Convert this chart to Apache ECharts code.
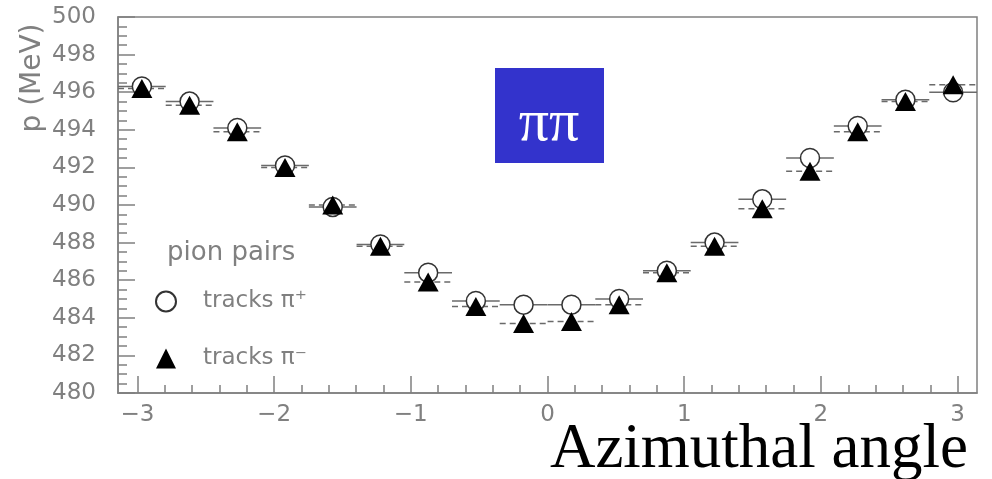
<!DOCTYPE html>
<html>
<head>
<meta charset="utf-8">
<script src="https://cdn.jsdelivr.net/npm/echarts@6/dist/echarts.min.js"></script>
<style>html,body{margin:0;padding:0;background:#fff;}#c{width:992px;height:479px;}</style>
</head>
<body>
<div id="c"></div>
<script>
// Data
const binCenters = [-2.967,-2.618,-2.269,-1.920,-1.571,-1.222,-0.873,-0.524,-0.175,0.175,0.524,0.873,1.222,1.571,1.920,2.269,2.618,2.967];
const binHalfWidth = 0.1745;
const piPlus  = [496.3,495.5,494.1,492.1,489.9,487.9,486.4,484.9,484.7,484.7,485.0,486.5,488.0,490.3,492.5,494.2,495.6,496.0];
const piMinus = [496.2,495.3,493.9,492.0,490.0,487.8,485.9,484.6,483.7,483.8,484.7,486.4,487.8,489.8,491.8,493.9,495.5,496.4];
const xTickLabels = [-3,-2,-1,0,1,2,3];
const xMinorTicks = [];
for (let i = -15; i <= 15; i++) { if (i % 5 !== 0) xMinorTicks.push(+(i * 0.2).toFixed(1)); }
const seriesNames = ['tracks π\u207A', 'tracks π\u207B'];

const gray = '#808080';
const tickFont = { fontFamily: 'DejaVu Sans', fontSize: 23, color: gray };

function errBars(vals, dashed) {
  return {
    type: 'custom',
    xAxisIndex: 0, yAxisIndex: 0,
    silent: true,
    z: 1,
    data: binCenters.map((x, i) => [x, vals[i]]),
    renderItem: function (params, api) {
      const x = api.value(0), y = api.value(1);
      const p1 = api.coord([x - binHalfWidth, y]);
      const p2 = api.coord([x + binHalfWidth, y]);
      return {
        type: 'line',
        shape: { x1: p1[0], y1: p1[1], x2: p2[0], y2: p2[1] },
        style: { stroke: '#6a6a6a', lineWidth: 1.5, lineDash: dashed ? [6, 4] : null }
      };
    }
  };
}

const chart = echarts.init(document.getElementById('c'), null, { renderer: 'canvas' });
chart.setOption({
  animation: false,
  backgroundColor: '#fff',
  grid: { left: 118, top: 17, right: 15, bottom: 86, show: true, borderColor: gray, borderWidth: 1.5 },
  xAxis: [{
    type: 'value', min: -Math.PI, max: Math.PI,
    axisLine: { show: true, onZero: false, lineStyle: { color: gray, width: 1.5 } },
    axisTick: { show: true, inside: true, length: 17, customValues: xTickLabels, lineStyle: { color: gray, width: 1.5 } },
    axisLabel: { customValues: xTickLabels, margin: 11, ...tickFont,
      formatter: v => String(Math.round(v)).replace('-', '\u2212') },
    splitLine: { show: false }
  }, {
    type: 'value', min: -Math.PI, max: Math.PI, position: 'bottom',
    axisLine: { show: false, onZero: false },
    axisTick: { show: true, inside: true, length: 8, customValues: xMinorTicks, lineStyle: { color: gray, width: 1.5 } },
    axisLabel: { show: false },
    splitLine: { show: false }
  }],
  yAxis: {
    type: 'value', min: 480, max: 500, interval: 2,
    axisLine: { show: true, onZero: false, lineStyle: { color: gray, width: 1.5 } },
    axisTick: { show: true, inside: true, length: 17, lineStyle: { color: gray, width: 1.5 } },
    minorTick: { show: true, splitNumber: 4, length: 9, lineStyle: { color: gray, width: 1.5 } },
    axisLabel: { margin: 22, ...tickFont },
    splitLine: { show: false }
  },
  legend: {
    data: seriesNames,
    orient: 'vertical',
    left: 150, top: 285,
    itemWidth: 20, itemHeight: 20,
    itemGap: 34,
    textStyle: { fontFamily: 'DejaVu Sans', fontSize: 23, color: gray, padding: [0, 0, 0, 22] }
  },
  series: [
    errBars(piPlus, false),
    errBars(piMinus, true),
    {
      name: seriesNames[0], type: 'scatter', z: 3,
      symbol: 'circle', symbolSize: 19,
      itemStyle: { color: '#fff', borderColor: '#333', borderWidth: 1.5, opacity: 1 },
      data: binCenters.map((x, i) => [x, piPlus[i]])
    },
    {
      name: seriesNames[1], type: 'scatter', z: 4,
      symbol: 'triangle', symbolSize: [21, 19],
      itemStyle: { color: '#000', opacity: 1 },
      data: binCenters.map((x, i) => [x, piMinus[i]])
    }
  ],
  graphic: [
    { type: 'text', left: 167, top: 240,
      style: { text: 'pion pairs', font: '26px "DejaVu Sans"', fill: gray } },
    { type: 'text', x: 33, y: 78, rotation: Math.PI / 2,
      style: { text: 'p (MeV)', font: '28px "DejaVu Sans"', fill: gray, align: 'center', verticalAlign: 'middle' } },
    { type: 'rect', shape: { x: 495, y: 68, width: 109, height: 95 }, style: { fill: '#3333cc' }, z: 10 },
    { type: 'text', x: 549, y: 124, z: 11,
      style: { text: 'ππ', font: '60px "Liberation Serif"', fill: '#fff', align: 'center', verticalAlign: 'middle' } },
    { type: 'text', x: 968, y: 450, z: 11,
      style: { text: 'Azimuthal angle', font: '63px "Liberation Serif"', fill: '#000', align: 'right', verticalAlign: 'middle' } }
  ]
});
</script>
</body>
</html>
